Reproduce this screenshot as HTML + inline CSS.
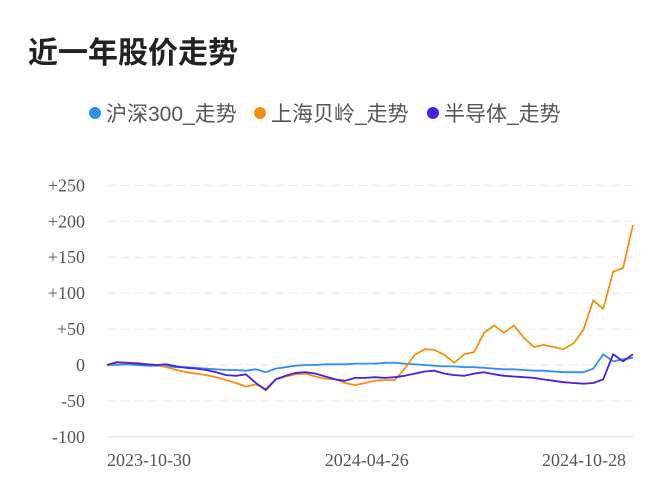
<!DOCTYPE html>
<html><head><meta charset="utf-8"><style>
body{margin:0;background:#fff;width:672px;height:500px;overflow:hidden;font-family:"Liberation Sans","Noto Sans CJK SC",sans-serif}
#t{position:absolute;left:28px;top:28px;font-size:30px;font-weight:bold;color:#222}
.lg{position:absolute;top:98px;font-size:21px;color:#555;display:flex;align-items:center}
.lg i{display:inline-block;width:12px;height:12px;border-radius:6px;margin-right:5px}
</style></head><body>
<div id="t">近一年股价走势</div>
<div class="lg" style="left:89px"><i style="background:#2f8fef"></i>沪深300_走势</div>
<div class="lg" style="left:254px"><i style="background:#f5900f"></i>上海贝岭_走势</div>
<div class="lg" style="left:427px"><i style="background:#4a1fe0"></i>半导体_走势</div>
<svg id="c" width="672" height="500" style="position:absolute;left:0;top:0"></svg>
<script>
const yTicks=[250,200,150,100,50,0,-50,-100];
const xLabels=["2023-10-30","2024-04-26","2024-10-28"];
const xLabelPos=[0,0.414,0.827];
const orange=[0,3,3,3,1,0,-3,-7,-10,-12,-14,-17,-21,-25,-30,-27,-33,-20,-16,-13,-12,-16,-19,-20,-25,-28,-25,-22,-21,-21,-5,14,22,21,14,3,15,18,45,55,45,55,38,25,28,25,22,30,49,90,78,130,135,195];
const blue=[0,0,1,0,-1,-1,-2,-3,-3,-4,-5,-6,-7,-7,-8,-6,-10,-5,-3,-1,0,0,1,1,1,2,2,2,3,3,2,1,0,-1,-2,-2,-3,-3,-4,-5,-6,-6,-7,-8,-8,-9,-10,-10,-10,-5,15,5,8,10];
const purple=[0,4,3,2,1,0,1,-2,-4,-5,-7,-10,-14,-15,-13,-25,-35,-20,-15,-11,-10,-12,-16,-20,-22,-18,-18,-17,-18,-17,-15,-12,-9,-8,-12,-14,-15,-12,-10,-13,-15,-16,-17,-18,-20,-22,-24,-25,-26,-25,-20,15,5,15];
const svg=document.getElementById('c'),NS='http://www.w3.org/2000/svg';
const X0=107,X1=633;
const y=v=>365-v*0.7186;
const xf=f=>X0+f*(X1-X0);
function mk(t,a){const e=document.createElementNS(NS,t);for(const k in a)e.setAttribute(k,a[k]);svg.appendChild(e);return e;}
yTicks.forEach(v=>{
 const l=mk('line',{x1:X0,x2:X1,y1:y(v),y2:y(v),stroke:v===-100?'#ddd':'#e6e6e6','stroke-dasharray':v===-100?'':'8,6'});
 
 
 const t=mk('text',{x:85,y:y(v)+6,'text-anchor':'end','font-size':18,fill:'#555','font-family':'Liberation Serif,serif'});
 t.textContent=(v>0?'+':'')+v;
 
 
});
xLabels.forEach((s,i)=>{
 const t=mk('text',{x:xf(xLabelPos[i]),y:466,'text-anchor':'start','font-size':18,fill:'#555','font-family':'Liberation Serif,serif'});
 t.textContent=s;
 
 
});
function line(d,c,n){
 const p=d.map((v,i)=>(i?'L':'M')+xf(i/(d.length-1)).toFixed(1)+','+y(v).toFixed(1)).join('');
 const e=mk('path',{d:p,fill:'none',stroke:c,'stroke-width':1.8,'stroke-linejoin':'round'});
 
 
}
line(blue,'#2f8fef','hs300-line');
line(orange,'#f5900f','bl-line');
line(purple,'#4a1fe0','semi-line');
</script>
</body></html>
